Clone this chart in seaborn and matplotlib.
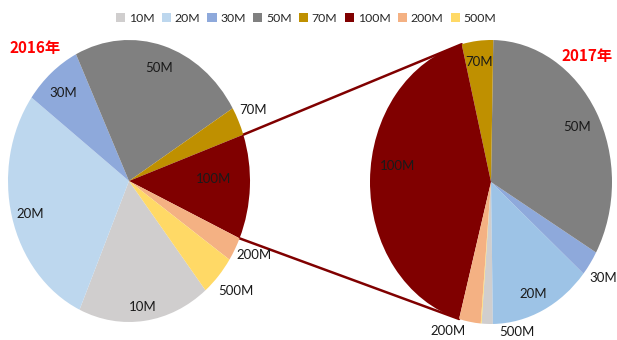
"""
Two pie charts of issue size share, 2016 vs 2017, with the 100M slice linked across
"""

import numpy as np
import matplotlib.pyplot as plt
import seaborn as sns
from matplotlib.patches import Patch
from matplotlib.lines import Line2D

# Categories (legend order) and shares in percent
categories = ['10M', '20M', '30M', '50M', '70M', '100M', '200M', '500M']
share_2016 = [17.6, 28.4, 7.7, 23.6, 3.3, 12.0, 2.75, 4.7]
share_2017 = [1.5, 13.6, 2.9, 33.0, 4.2, 41.9, 2.9, 0.1]

# Labels shown on each pie (the tiny 10M slice of 2017 has none)
labels_2016 = ['10M', '20M', '30M', '50M', '70M', '100M', '200M', '500M']
labels_2017 = ['', '20M', '30M', '50M', '70M', '100M', '200M', '500M']

colors_2016 = ['#D0CECE', '#BDD7EE', '#8EA9DB', '#808080', '#BF9000', '#800000', '#F4B183', '#FFD966']
colors_2017 = ['#D0CECE', '#9DC3E6', '#8EA9DB', '#808080', '#BF9000', '#800000', '#F4B183', '#FFD966']

# Label layout: distance from centre (unit radius) and angle nudge in degrees
label_r_2016 = [0.90, 0.85, 0.83, 0.84, 1.14, 0.70, 1.16, 1.18]
label_da_2016 = [-0.5, 1.0, 1.3, -0.5, 1.0, 3.4, 2.0, 0.8]
label_r_2017 = [0.0, 0.86, 1.15, 0.81, 0.85, 0.78, 1.11, 1.08]
label_da_2017 = [0.0, -1.5, -1.0, -1.0, 0.0, -7.5, -8.7, 16.0]

sns.set_theme(style='white')
plt.rcParams['font.family'] = ['Lato', 'Noto Sans CJK SC', 'DejaVu Sans']

W, H = 617, 340
LIM = 1.3


def pie_axes(fig, cx, cy, rx, ry):
    # Axes box in pixels, so that the unit pie becomes an ellipse rx by ry
    w, h = 2 * LIM * rx, 2 * LIM * ry
    ax = fig.add_axes([(cx - w / 2) / W, (H - cy - h / 2) / H, w / W, h / H])
    return ax


def draw_pie(ax, values, colors, labels, radii, nudges, start, ccw):
    wedges, _ = ax.pie(values, colors=colors, startangle=start, counterclock=ccw,
                       radius=1.0, wedgeprops=dict(linewidth=0))
    ax.set_aspect('auto')
    ax.set_xlim(-LIM, LIM)
    ax.set_ylim(-LIM, LIM)
    ax.axis('off')
    ax.patch.set_visible(False)
    # put each label at the wedge mid angle
    for w, lab, r, da in zip(wedges, labels, radii, nudges):
        if not lab:
            continue
        ang = np.deg2rad((w.theta1 + w.theta2) / 2 + da)
        ax.text(r * np.cos(ang), r * np.sin(ang), lab, ha='center', va='center',
                fontsize=9.5, color='#1a1a1a')
    return wedges


fig = plt.figure(figsize=(W / 100, H / 100), dpi=100)

ax1 = pie_axes(fig, 129, 181, 121, 141)
ax2 = pie_axes(fig, 491, 182, 121, 142)

w1 = draw_pie(ax1, share_2016, colors_2016, labels_2016, label_r_2016, label_da_2016, -50.8, False)
w2 = draw_pie(ax2, share_2017, colors_2017, labels_2017, label_r_2017, label_da_2017, -94.5, True)


def to_fig(ax, deg):
    # point on the unit pie edge -> figure fraction
    p = (np.cos(np.deg2rad(deg)), np.sin(np.deg2rad(deg)))
    return fig.transFigure.inverted().transform(ax.transData.transform(p))


# Link the 100M slice of both pies, drawn under the pies
k = categories.index('100M')
pairs = [(w1[k].theta2, w2[k].theta1), (w1[k].theta1, w2[k].theta2)]
for a, b in pairs:
    p, q = to_fig(ax1, a), to_fig(ax2, b)
    fig.add_artist(Line2D([p[0], q[0]], [p[1], q[1]], transform=fig.transFigure,
                          color='#800000', linewidth=1.8, zorder=-1))

# Year titles
fig.text(10 / W, 1 - 48 / H, '2016年', color='#FF0000', fontsize=11, fontweight='bold',
         family=['Noto Sans CJK SC', 'DejaVu Sans'], ha='left', va='center')
fig.text(613 / W, 1 - 56 / H, '2017年', color='#FF0000', fontsize=11, fontweight='bold',
         family=['Noto Sans CJK SC', 'DejaVu Sans'], ha='right', va='center')

# Legend across the top
handles = [Patch(facecolor=c, edgecolor='none') for c in colors_2016]
fig.legend(handles, categories, ncol=len(categories), loc='center',
           bbox_to_anchor=(306 / W, 1 - 18 / H), frameon=False, fontsize=8.8,
           handlelength=0.75, handleheight=0.75, handletextpad=0.3,
           columnspacing=0.6, borderaxespad=0)

plt.savefig('out.png', dpi=100)
